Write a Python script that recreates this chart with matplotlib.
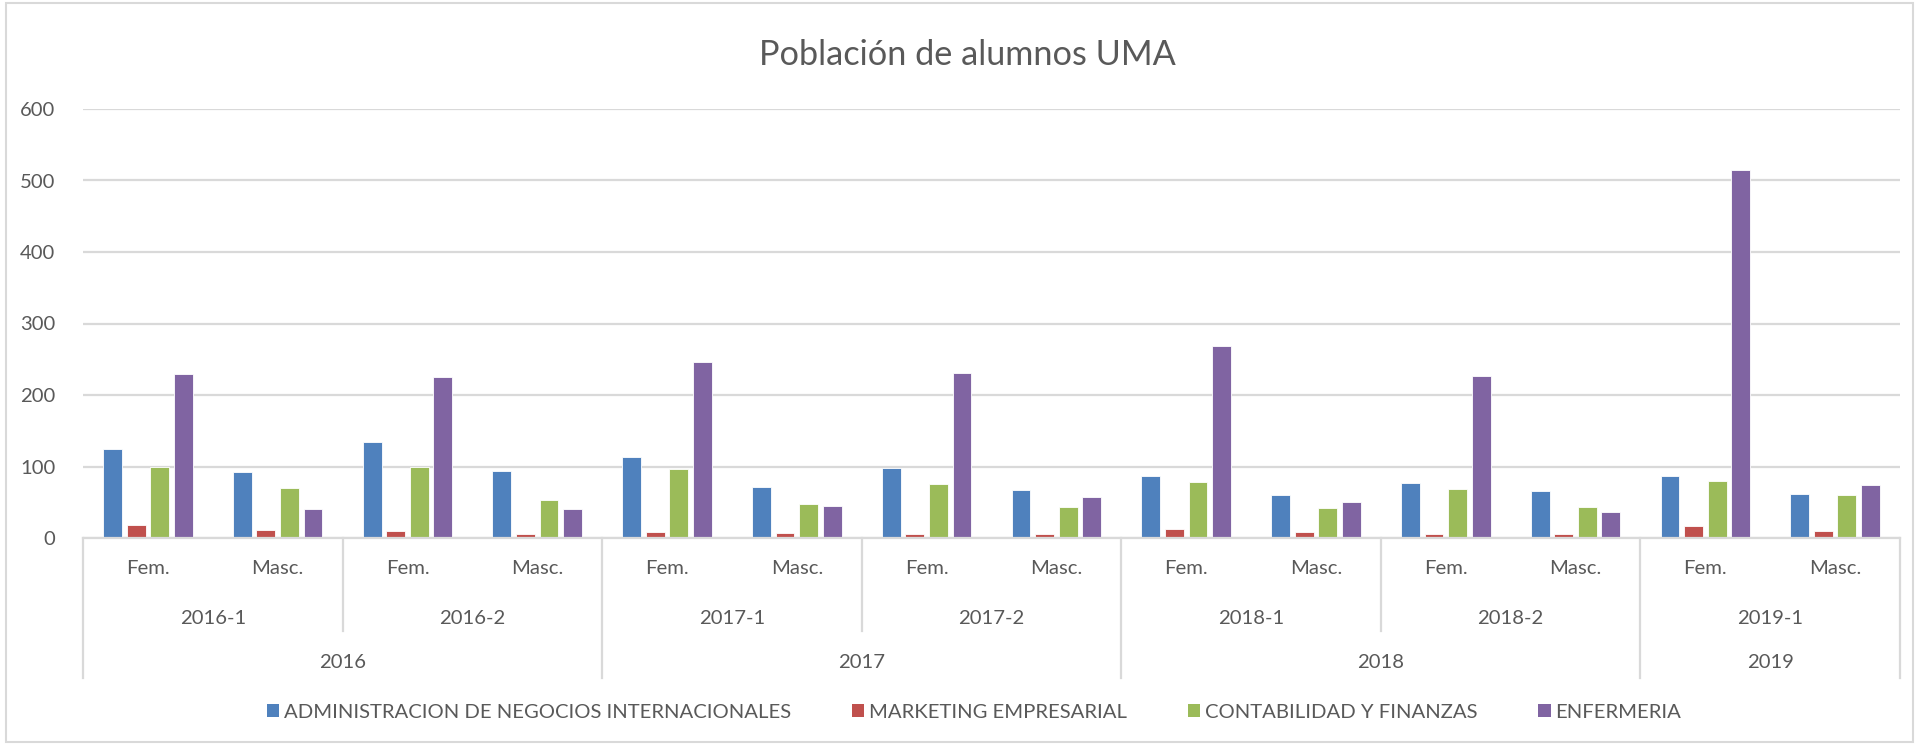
import matplotlib
matplotlib.use("Agg")
import matplotlib.pyplot as plt
from matplotlib.patches import Rectangle, Patch
from matplotlib.lines import Line2D
import matplotlib.transforms as mtransforms
import numpy as np

plt.rcParams['font.family'] = ['Lato', 'DejaVu Sans']

title = "Población de alumnos UMA"
years = ["2016", "2017", "2018", "2019"]
periods = ["2016-1", "2016-2", "2017-1", "2017-2", "2018-1", "2018-2", "2019-1"]
period_year = [0, 0, 1, 1, 2, 2, 3]
sexes = ["Fem.", "Masc."]

series_names = ["ADMINISTRACION DE NEGOCIOS INTERNACIONALES", "MARKETING EMPRESARIAL",
                "CONTABILIDAD Y FINANZAS", "ENFERMERIA"]
adm = [125, 93, 134, 94, 113, 71, 98, 67, 87, 60, 77, 66, 87, 62]
mkt = [18, 11, 10, 6, 9, 7, 6, 6, 13, 9, 6, 5, 17, 10]
cont = [100, 70, 100, 53, 96, 47, 76, 44, 79, 42, 68, 44, 80, 60]
enf = [230, 41, 225, 41, 246, 45, 231, 57, 268, 50, 226, 37, 515, 74]
colors = ["#4F81BD", "#C0504D", "#9BBB59", "#8064A2"]
yticks = [0, 100, 200, 300, 400, 500, 600]

W, H = 1919, 745
fig = plt.figure(figsize=(W / 100, H / 100), dpi=100)
left, right, top, bottom = 83, 1900, 109, 538
ax = fig.add_axes([left / W, 1 - bottom / H, (right - left) / W, (bottom - top) / H])

text_col = "#595959"
grid_col = "#D9D9D9"
fs = 14.6

n = len(adm)
x = np.arange(n)
pitch = 0.1816
bw = 0.145
for i, (vals, c) in enumerate(zip([adm, mkt, cont, enf], colors)):
    ax.bar(x + (i - 1.5) * pitch, vals, width=bw, color=c, edgecolor="white",
           linewidth=0.6, zorder=3, label=series_names[i])

ax.set_xlim(-0.5, n - 0.5)
ax.set_ylim(0, 600)
ax.set_yticks(yticks)
ax.set_yticklabels([str(v) for v in yticks], fontsize=fs, color=text_col)
ax.tick_params(axis="y", length=0, pad=20)
ax.set_xticks([])
ax.grid(axis="y", color=grid_col, linewidth=1.6, zorder=0)
for s in ["top", "right", "left"]:
    ax.spines[s].set_visible(False)
ax.spines["bottom"].set_color(grid_col)
ax.spines["bottom"].set_linewidth(1.6)
ax.spines["bottom"].set_zorder(4)

ph = bottom - top
def yf(ypix):
    return -(ypix - bottom) / ph

trans = mtransforms.blended_transform_factory(ax.transData, ax.transAxes)

# level 1: sex labels
for k in range(n):
    ax.text(k, yf(569), sexes[k % 2], transform=trans, ha="center", va="center",
            fontsize=fs, color=text_col, clip_on=False)
# level 2: periods
for p, lab in enumerate(periods):
    ax.text(2 * p + 0.5, yf(618), lab, transform=trans, ha="center", va="center",
            fontsize=fs, color=text_col, clip_on=False)
# level 3: years
for yi, lab in enumerate(years):
    idx = [p for p in range(len(periods)) if period_year[p] == yi]
    cx = (2 * idx[0] + 2 * idx[-1] + 1) / 2
    ax.text(cx, yf(663), lab, transform=trans, ha="center", va="center",
            fontsize=fs, color=text_col, clip_on=False)

# separators
for p in range(len(periods) + 1):
    xb = 2 * p - 0.5
    if p == 0 or p == len(periods) or period_year[p] != period_year[p - 1]:
        yend = yf(678)
    else:
        yend = yf(631)
    ax.add_line(Line2D([xb, xb], [0, yend], transform=trans, color=grid_col,
                       linewidth=1.6, clip_on=False))

fig.text(967 / W, 1 - 55 / H, title, ha="center", va="center", fontsize=24.7, color=text_col)

handles = [Patch(facecolor=c, edgecolor="none") for c in colors]
fig.legend(handles, series_names, loc="center", bbox_to_anchor=(974 / W, 1 - 712 / H),
           ncol=4, frameon=False, fontsize=fs, handlelength=0.6, handleheight=0.6,
           handletextpad=0.25, columnspacing=3.0, labelcolor=text_col)

fig.add_artist(Rectangle((6 / W, 3 / H), (W - 12) / W, (H - 6) / H, transform=fig.transFigure,
                         fill=False, edgecolor=grid_col, linewidth=1.5))

fig.savefig("out.png", dpi=100)
